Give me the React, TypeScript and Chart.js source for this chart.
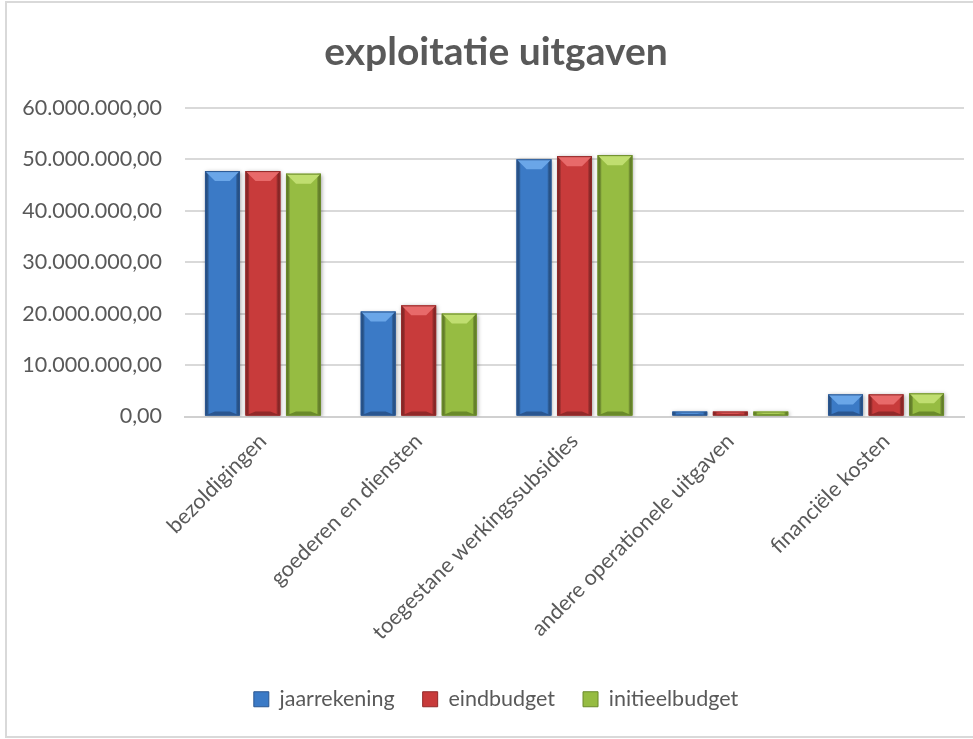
import React, { useEffect, useRef } from "react";
import { Chart, registerables } from "chart.js";

Chart.register(...registerables);

const categories = [
  "bezoldigingen",
  "goederen en diensten",
  "toegestane werkingssubsidies",
  "andere operationele uitgaven",
  "financiële kosten",
];
const jaarrekening = [47700000, 20400000, 50000000, 950000, 4300000];
const eindbudget = [47700000, 21600000, 50600000, 950000, 4300000];
const initieelbudget = [47200000, 20000000, 50800000, 950000, 4500000];
const seriesNames = ["jaarrekening", "eindbudget", "initieelbudget"];
const yTicks = [0, 10000000, 20000000, 30000000, 40000000, 50000000, 60000000];

const palette = [
  { main: "#3B7AC6", dark: "#2A5690", light: "#6AA6E8" },
  { main: "#C83B3B", dark: "#912929", light: "#E86A6A" },
  { main: "#96BC42", dark: "#6A8A2A", light: "#C0DE70" },
];

function fmtNL(v: number): string {
  const fixed = Math.abs(v).toFixed(2);
  const [intPart, dec] = fixed.split(".");
  const withDots = intPart.replace(/\B(?=(\d{3})+(?!\d))/g, ".");
  return (v < 0 ? "-" : "") + withDots + "," + dec;
}

const labelAreaPlugin = {
  id: "labelArea",
  afterLayout(chart: any) {
    if (chart.scales.y) chart.scales.y.left = 0;
  },
};

const bevelPlugin = {
  id: "bevel",
  beforeDatasetsDraw(chart: any) {
    const ctx = chart.ctx;
    ctx.save();
    ctx.shadowColor = "rgba(0,0,0,0.35)";
    ctx.shadowBlur = 4;
    ctx.shadowOffsetX = 1;
    ctx.shadowOffsetY = 1;
  },
  afterDatasetsDraw(chart: any) {
    const ctx = chart.ctx;
    ctx.restore();
    ctx.save();
    chart.data.datasets.forEach((ds: any, i: number) => {
      const meta = chart.getDatasetMeta(i);
      const col = palette[i];
      meta.data.forEach((bar: any) => {
        const { x, y, base, width } = bar.getProps(["x", "y", "base", "width"], true);
        const left = x - width / 2;
        const right = x + width / 2;
        const h = base - y;
        if (h <= 0) return;
        const g = ctx.createLinearGradient(left, 0, right, 0);
        g.addColorStop(0, col.dark);
        g.addColorStop(0.12, "rgba(0,0,0,0)");
        g.addColorStop(0.88, "rgba(0,0,0,0)");
        g.addColorStop(1, col.dark);
        ctx.fillStyle = g;
        ctx.fillRect(left, y, width, h);
        const d = Math.min(10, h / 2);
        const inset = Math.min(10, width / 3);
        ctx.beginPath();
        ctx.moveTo(left, y);
        ctx.lineTo(right, y);
        ctx.lineTo(right - inset, y + d);
        ctx.lineTo(left + inset, y + d);
        ctx.closePath();
        ctx.fillStyle = col.light;
        ctx.fill();
        const bd = Math.min(4, h / 4);
        ctx.beginPath();
        ctx.moveTo(left, base);
        ctx.lineTo(right, base);
        ctx.lineTo(right - inset, base - bd);
        ctx.lineTo(left + inset, base - bd);
        ctx.closePath();
        ctx.fillStyle = col.dark;
        ctx.fill();
        ctx.strokeStyle = col.dark;
        ctx.lineWidth = 1;
        ctx.strokeRect(left + 0.5, y + 0.5, width - 1, h - 1);
      });
    });
    ctx.restore();
  },
};

export default function App() {
  const ref = useRef<HTMLCanvasElement | null>(null);
  useEffect(() => {
    if (!ref.current) return;
    const font = "Lato, 'Open Sans', sans-serif";
    const series = [jaarrekening, eindbudget, initieelbudget];
    const chart = new Chart(ref.current, {
      type: "bar",
      data: {
        labels: categories,
        datasets: series.map((d, i) => ({
          label: seriesNames[i],
          data: d,
          backgroundColor: palette[i].main,
          borderColor: palette[i].dark,
          borderWidth: 0,
          barPercentage: 0.86,
          categoryPercentage: 0.78,
        })),
      },
      options: {
        responsive: false,
        animation: false,
        layout: { padding: { left: 28, right: 9, top: 0, bottom: 19 } },
        plugins: {
          title: {
            display: true,
            text: "exploitatie uitgaven",
            color: "#595959",
            font: { family: font, size: 39, weight: "bold" },
            padding: { top: 29, bottom: 32 },
          },
          legend: {
            position: "bottom",
            labels: {
              color: "#595959",
              font: { family: font, size: 21.5 },
              boxWidth: 15,
              boxHeight: 15,
              padding: 28,
              generateLabels: (c: any) =>
                c.data.datasets.map((ds: any, i: number) => ({
                  text: ds.label,
                  fillStyle: palette[i].main,
                  strokeStyle: palette[i].dark,
                  lineWidth: 1,
                  datasetIndex: i,
                  fontColor: "#595959",
                })),
            },
          },
          tooltip: { enabled: false },
        },
        scales: {
          x: {
            grid: { display: false, drawTicks: false },
            border: { display: true, color: "#d0d0d0", width: 2 },
            ticks: {
              color: "#595959",
              font: { family: font, size: 21.5 },
              minRotation: 45,
              maxRotation: 45,
              padding: 12,
              autoSkip: false,
            },
            afterFit: (s: any) => {
              s.height = 244;
            },
          },
          y: {
            min: 0,
            max: 60000000,
            afterBuildTicks: (s: any) => {
              s.ticks = yTicks.map((v) => ({ value: v }));
            },
            grid: { color: "#d9d9d9", lineWidth: 2, drawTicks: false },
            border: { display: false },
            ticks: {
              color: "#595959",
              font: { family: font, size: 21.5 },
              padding: 23,
              callback: (v: any) => fmtNL(Number(v)),
            },
            afterFit: (s: any) => {
              s.width = 157;
            },
          },
        },
      },
      plugins: [labelAreaPlugin, bevelPlugin],
    });
    return () => chart.destroy();
  }, []);
  return (
    <div style={{ position: "absolute", left: 0, top: 0, width: 973, height: 739, background: "#fff" }}>
      <div
        style={{
          position: "absolute",
          left: 5,
          top: 1,
          width: 972,
          height: 737,
          border: "2px solid #d9d9d9",
          boxSizing: "border-box",
        }}
      />
      <canvas ref={ref} width={973} height={739} style={{ position: "absolute", left: 0, top: 0 }} />
    </div>
  );
}
